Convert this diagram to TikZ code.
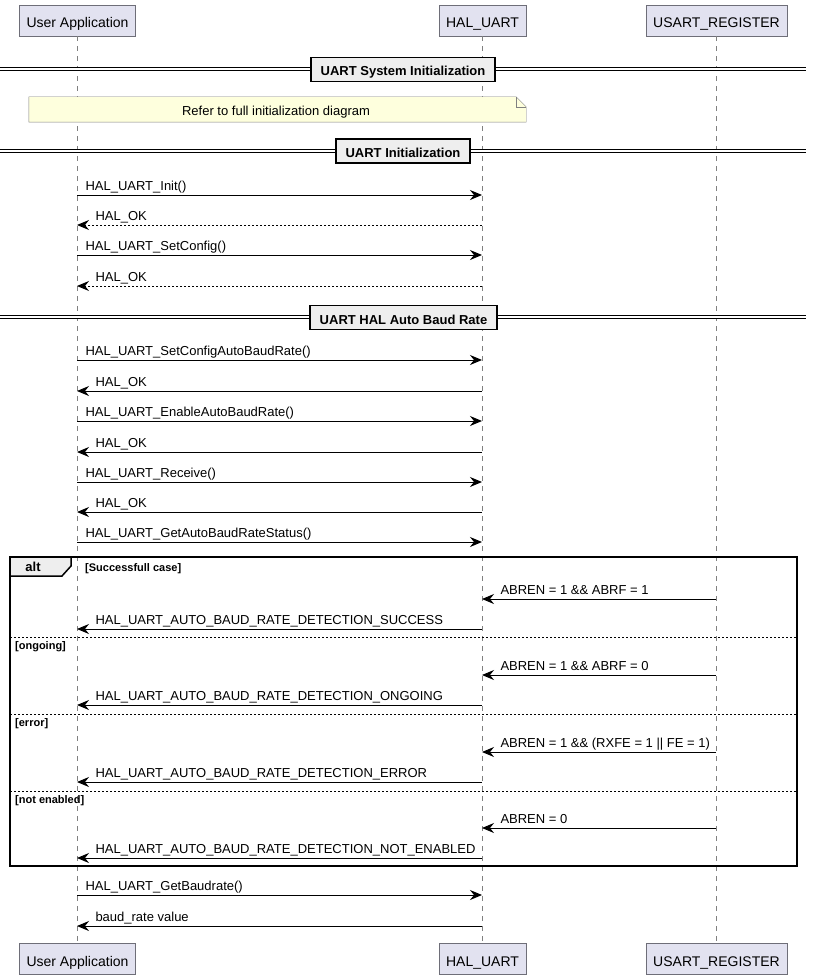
\documentclass[tikz,border=0pt]{standalone}
\usepackage{fontspec}
\setmainfont{Liberation Sans}
\usetikzlibrary{arrows.meta}

\definecolor{partfill}{RGB}{226,226,240}
\definecolor{partline}{RGB}{110,110,120}
\definecolor{notefill}{RGB}{254,255,221}
\definecolor{divfill}{RGB}{238,238,238}

\tikzset{
  part/.style={draw=partline, fill=partfill, minimum height=31pt, inner xsep=7pt,
               text height=14pt, text depth=0pt, font=\fontsize{14}{16}\selectfont},
  life/.style={draw=gray, line width=0.5pt, dash pattern=on 5pt off 5pt},
  msg/.style={draw=black, line width=1pt, -{Stealth[length=12pt,width=10pt,inset=4pt]}},
  reply/.style={msg, dash pattern=on 2pt off 2pt},
  lbl/.style={font=\fontsize{13}{15}\selectfont, inner sep=0pt, anchor=base west, yshift=5pt},
  fwd/.style={lbl, pos=0, xshift=8pt},
  back/.style={lbl, pos=1, xshift=18pt},
  divider/.style={draw=black, line width=1.5pt, fill=divfill, minimum height=24pt,
                  inner xsep=9.5pt, text height=13pt, text depth=0pt,
                  font=\bfseries\fontsize{13}{15}\selectfont},
  divline/.style={draw=black, line width=1pt, double, double distance=2pt},
  guard/.style={font=\bfseries\fontsize{11}{13}\selectfont, inner sep=0pt, anchor=base west},
  frame/.style={draw=black, line width=1.5pt},
  sep/.style={draw=black, line width=1pt, dash pattern=on 2pt off 2pt},
}

\begin{document}
\begin{tikzpicture}[x=1pt, y=-1pt]
\useasboundingbox (0,0) rectangle (813,979);

% participants, top and bottom
\begin{scope}[every node/.style={part}]
    \node (app)  at (77.5,20.5)  {User Application};
    \node (hal)  at (482.5,20.5) {HAL\_UART};
    \node (reg)  at (716.5,20.5) {USART\_REGISTER};
    \node (appB) at (77.5,959)   {User Application};
    \node (halB) at (482.5,959)  {HAL\_UART};
    \node (regB) at (716.5,959)  {USART\_REGISTER};
\end{scope}

\draw[life] (app) -- (appB);
\draw[life] (hal) -- (halB);
\draw[life] (reg) -- (regB);

% one row of points on the lifelines for every message
\foreach \n/\y in {1/195,2/225,3/255,4/286,5/360,6/391,7/421,8/452,9/482,10/512,
                   11/542,12/599,13/629,14/675,15/705,16/752,17/782,18/828,19/858,
                   20/895,21/926} {
    \coordinate (a\n) at (77,\y);
    \coordinate (h\n) at (482,\y);
    \coordinate (r\n) at (716,\y);
}

% section dividers
\draw[divline] (0,69.5) -- (806,69.5);
\node[divider] (sysinit) at (403,69.5) {UART System Initialization};
\draw[divline] (0,150.5) -- (806,150.5);
\node[divider] (init) at (403,151) {UART Initialization};
\draw[divline] (0,317) -- (806,317);
\node[divider] (autobaud) at (403.5,317.5) {UART HAL Auto Baud Rate};

% note
\node[minimum width=497pt, minimum height=25pt, inner sep=0pt] (ref) at (277.5,109.5) {};
\draw[draw=gray, fill=notefill] (ref.south west) -- (ref.north west)
    -- ([xshift=-10pt]ref.north east) -- ([yshift=-10pt]ref.north east)
    -- (ref.south east) -- cycle;
\draw[draw=gray] ([xshift=-10pt]ref.north east) -- ([xshift=-10pt,yshift=-10pt]ref.north east)
    -- ([yshift=-10pt]ref.north east);
\node[text height=13pt, text depth=0pt, font=\fontsize{13}{15}\selectfont] (reftext) at (276,109.5)
    {Refer to full initialization diagram};

% init
\draw[msg]   (a1) -- (h1) node[fwd]  {HAL\_UART\_Init()};
\draw[reply] (h2) -- (a2) node[back] {HAL\_OK};
\draw[msg]   (a3) -- (h3) node[fwd]  {HAL\_UART\_SetConfig()};
\draw[reply] (h4) -- (a4) node[back] {HAL\_OK};

% auto baud rate
\draw[msg] (a5)  -- (h5)  node[fwd]  {HAL\_UART\_SetConfigAutoBaudRate()};
\draw[msg] (h6)  -- (a6)  node[back] {HAL\_OK};
\draw[msg] (a7)  -- (h7)  node[fwd]  {HAL\_UART\_EnableAutoBaudRate()};
\draw[msg] (h8)  -- (a8)  node[back] {HAL\_OK};
\draw[msg] (a9)  -- (h9)  node[fwd]  {HAL\_UART\_Receive()};
\draw[msg] (h10) -- (a10) node[back] {HAL\_OK};
\draw[msg] (a11) -- (h11) node[fwd]  {HAL\_UART\_GetAutoBaudRateStatus()};

% alt frame
\draw[frame] (10,557) rectangle (797,866);
\draw[frame, fill=divfill] (10,557) -- (71,557) -- (71,566) -- (62,576) -- (10,576) -- cycle;
\node[font=\bfseries\fontsize{13}{15}\selectfont] (alt) at (33,567) {alt};
\node[guard] (g1) at (85,571) {[Successfull case]};
\draw[sep] (10,637) -- (797,637);
\node[guard] (g2) at (15,649) {[ongoing]};
\draw[sep] (10,714) -- (797,714);
\node[guard] (g3) at (15,726) {[error]};
\draw[sep] (10,791) -- (797,791);
\node[guard] (g4) at (15,803) {[not enabled]};

\draw[msg] (r12) -- (h12) node[back] {ABREN = 1 \&\& ABRF = 1};
\draw[msg] (h13) -- (a13) node[back] {HAL\_UART\_AUTO\_BAUD\_RATE\_DETECTION\_SUCCESS};
\draw[msg] (r14) -- (h14) node[back] {ABREN = 1 \&\& ABRF = 0};
\draw[msg] (h15) -- (a15) node[back] {HAL\_UART\_AUTO\_BAUD\_RATE\_DETECTION\_ONGOING};
\draw[msg] (r16) -- (h16) node[back] {ABREN = 1 \&\& (RXFE = 1 || FE = 1)};
\draw[msg] (h17) -- (a17) node[back] {HAL\_UART\_AUTO\_BAUD\_RATE\_DETECTION\_ERROR};
\draw[msg] (r18) -- (h18) node[back] {ABREN = 0};
\draw[msg] (h19) -- (a19) node[back] {HAL\_UART\_AUTO\_BAUD\_RATE\_DETECTION\_NOT\_ENABLED};

% baud rate
\draw[msg] (a20) -- (h20) node[fwd]  {HAL\_UART\_GetBaudrate()};
\draw[msg] (h21) -- (a21) node[back] {baud\_rate value};
\end{tikzpicture}
\end{document}
